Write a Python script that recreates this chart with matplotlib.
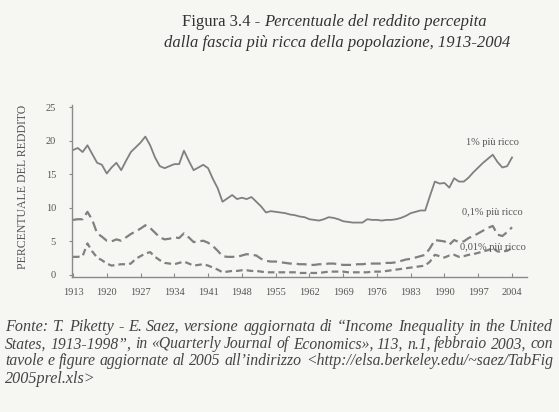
import numpy as np
import matplotlib
matplotlib.use("Agg")
import matplotlib.pyplot as plt

# ── Data ─────────────────────────────────────────────────────
years = np.arange(1913, 2005)

top1 = [18.6, 18.9, 18.3, 19.3, 18.0, 16.7, 16.4, 15.1, 16.0, 16.7,   # 1913-1922
        15.6, 17.0, 18.3, 19.0, 19.7, 20.6, 19.3, 17.5, 16.2, 15.9,   # 1923-1932
        16.2, 16.5, 16.5, 18.5, 17.0, 15.6, 16.0, 16.4, 15.9, 14.3,   # 1933-1942
        12.9, 10.9, 11.4, 11.9, 11.3, 11.5, 11.3, 11.6, 10.9, 10.2,   # 1943-1952
        9.3, 9.5, 9.4, 9.3, 9.2, 9.0, 8.9, 8.7, 8.6, 8.3,             # 1953-1962
        8.2, 8.1, 8.3, 8.6, 8.5, 8.3, 8.0, 7.9, 7.8, 7.8,             # 1963-1972
        7.8, 8.3, 8.2, 8.2, 8.1, 8.2, 8.2, 8.3, 8.5, 8.8,             # 1973-1982
        9.2, 9.4, 9.6, 9.6, 11.8, 13.9, 13.6, 13.7, 13.0, 14.4,       # 1983-1992
        13.9, 13.9, 14.5, 15.3, 16.0, 16.7, 17.3, 17.9, 16.8, 16.0,   # 1993-2002
        16.2, 17.5]                                                   # 2003-2004

top01 = [8.2, 8.3, 8.3, 9.4, 8.2, 6.2, 5.7, 5.1, 5.0, 5.3,
         5.1, 5.6, 6.1, 6.5, 6.9, 7.4, 7.0, 6.3, 5.6, 5.3,
         5.4, 5.6, 5.5, 6.2, 5.6, 4.9, 5.0, 5.1, 4.8, 4.3,
         3.6, 2.8, 2.7, 2.7, 2.7, 2.9, 3.1, 3.0, 2.9, 2.4,
         2.1, 2.0, 2.0, 1.9, 1.8, 1.7, 1.7, 1.6, 1.6, 1.5,
         1.5, 1.6, 1.6, 1.7, 1.7, 1.6, 1.5, 1.5, 1.5, 1.6,
         1.6, 1.7, 1.7, 1.7, 1.7, 1.8, 1.8, 1.9, 2.1, 2.3,
         2.4, 2.6, 2.8, 3.0, 4.0, 5.2, 5.1, 5.0, 4.5, 5.2,
         4.9, 5.0, 5.5, 5.8, 6.2, 6.6, 7.0, 7.3, 6.0, 5.8,
         6.4, 7.1]

top001 = [2.7, 2.7, 2.8, 4.7, 3.5, 2.6, 2.2, 1.7, 1.4, 1.5,
          1.6, 1.6, 1.7, 2.4, 2.8, 3.2, 3.4, 2.7, 2.2, 1.8,
          1.7, 1.6, 1.8, 2.0, 1.7, 1.4, 1.5, 1.6, 1.4, 1.1,
          0.8, 0.4, 0.5, 0.6, 0.6, 0.7, 0.7, 0.6, 0.6, 0.5,
          0.4, 0.4, 0.4, 0.4, 0.4, 0.4, 0.4, 0.3, 0.3, 0.3,
          0.3, 0.3, 0.4, 0.5, 0.5, 0.5, 0.5, 0.4, 0.4, 0.4,
          0.4, 0.4, 0.5, 0.5, 0.5, 0.6, 0.7, 0.8, 0.9, 1.0,
          1.1, 1.2, 1.3, 1.4, 2.0, 3.0, 2.8, 2.6, 2.9, 3.0,
          2.7, 2.8, 3.0, 3.1, 3.3, 3.5, 3.7, 4.0, 3.5, 3.5,
          3.6, 4.0]

series_labels = ["1% più ricco", "0,1% più ricco", "0,01% più ricco"]
xticks = list(range(1913, 2005, 7))
yticks = [0, 5, 10, 15, 20, 25]

title_a = "Figura 3.4 - "
title_b = "Percentuale del reddito percepita"
title_c = "dalla fascia più ricca della popolazione, 1913-2004"
footer = [
    "Fonte: T. Piketty - E. Saez, versione aggiornata di “Income Inequality in the United",
    "States, 1913-1998”, in «Quarterly Journal of Economics», 113, n.1, febbraio 2003, con",
    "tavole e figure aggiornate al 2005 all’indirizzo <http://elsa.berkeley.edu/~saez/TabFig",
    "2005prel.xls>",
]

# ── Figure ───────────────────────────────────────────────────
bg = "#f6f6f3"
serif = "Liberation Serif"
W, H = 559, 412
fig = plt.figure(figsize=(W/100, H/100), dpi=100)
fig.patch.set_facecolor(bg)
ax = fig.add_axes([72/W, 1 - 277/H, 455/W, 172/H])
ax.set_facecolor(bg)

line_col = "#808080"
ax.plot(years, top1, color=line_col, lw=1.3)
ax.plot(years, top01, color=line_col, lw=1.6, dashes=(4.5, 2.2))
ax.plot(years, top001, color=line_col, lw=1.6, dashes=(3.0, 1.8))

ax.set_xlim(1912.8, 2007.1)
ax.set_ylim(-0.3, 25.3)
ax.set_xticks(xticks)
ax.set_yticks(yticks)

for s in ["top", "right"]:
    ax.spines[s].set_visible(False)
for s in ["left", "bottom"]:
    ax.spines[s].set_color("#8a8a8a")
    ax.spines[s].set_linewidth(1.0)

ax.tick_params(axis="x", direction="in", length=3, pad=8, color="#8a8a8a",
               labelsize=7.5, labelcolor="#555555")
ax.tick_params(axis="y", direction="out", length=2.5, pad=9, color="#8a8a8a",
               labelsize=7.5, labelcolor="#555555")
for lab in ax.get_xticklabels() + ax.get_yticklabels():
    lab.set_fontfamily(serif)

# series labels at the right end
ax.text(2000, 19.7, series_labels[0], ha="center", va="center",
        fontsize=7.5, color="#555555", family=serif)
ax.text(2000, 9.3, series_labels[1], ha="center", va="center",
        fontsize=7.5, color="#555555", family=serif)
ax.text(2000, 4.1, series_labels[2], ha="center", va="center",
        fontsize=7.5, color="#555555", family=serif)

fig.text(23/W, 1 - 187/H, "PERCENTUALE DEL REDDITO", rotation=90,
         ha="center", va="center", fontsize=8.5, color="#555555", family=serif)

# ── Title ────────────────────────────────────────────────────
t1 = fig.text(182/W, 1 - 22/H, title_a, ha="left", va="center",
              fontsize=12, color="#333333", family=serif)
fig.canvas.draw()
renderer = fig.canvas.get_renderer()
bb = t1.get_window_extent(renderer)
fig.text(bb.x1 / W, 1 - 22/H, title_b, ha="left", va="center",
         fontsize=12, color="#333333", family=serif, style="italic")
fig.text(337/W, 1 - 43/H, title_c, ha="center", va="center",
         fontsize=12, color="#333333", family=serif, style="italic")

# ── Footer (justified like the book page) ────────────────────
x_left, x_right = 5, 553
min_gap = 3.6
foot_kw = dict(color="#444444", family=serif, style="italic",
               va="center", ha="left")


def word_widths(words, size):
    out = []
    for w in words:
        t = fig.text(0, 0, w, fontsize=size, **foot_kw)
        out.append(t.get_window_extent(renderer).width)
        t.remove()
    return out


for i, line in enumerate(footer):
    y = 1 - (327 + i * 17.2)/H
    size = 11.6
    if i == len(footer) - 1:
        fig.text(x_left/W, y, line, fontsize=size, **foot_kw)
        continue
    words = line.split(" ")
    avail = x_right - x_left
    widths = word_widths(words, size)
    if sum(widths) + min_gap * (len(words) - 1) > avail:
        size *= (avail - min_gap * (len(words) - 1)) / sum(widths)
        widths = word_widths(words, size)
    gap = (avail - sum(widths)) / (len(words) - 1)
    x = x_left
    for w, wd in zip(words, widths):
        fig.text(x/W, y, w, fontsize=size, **foot_kw)
        x += wd + gap

fig.savefig("out.png", dpi=100, facecolor=bg)
